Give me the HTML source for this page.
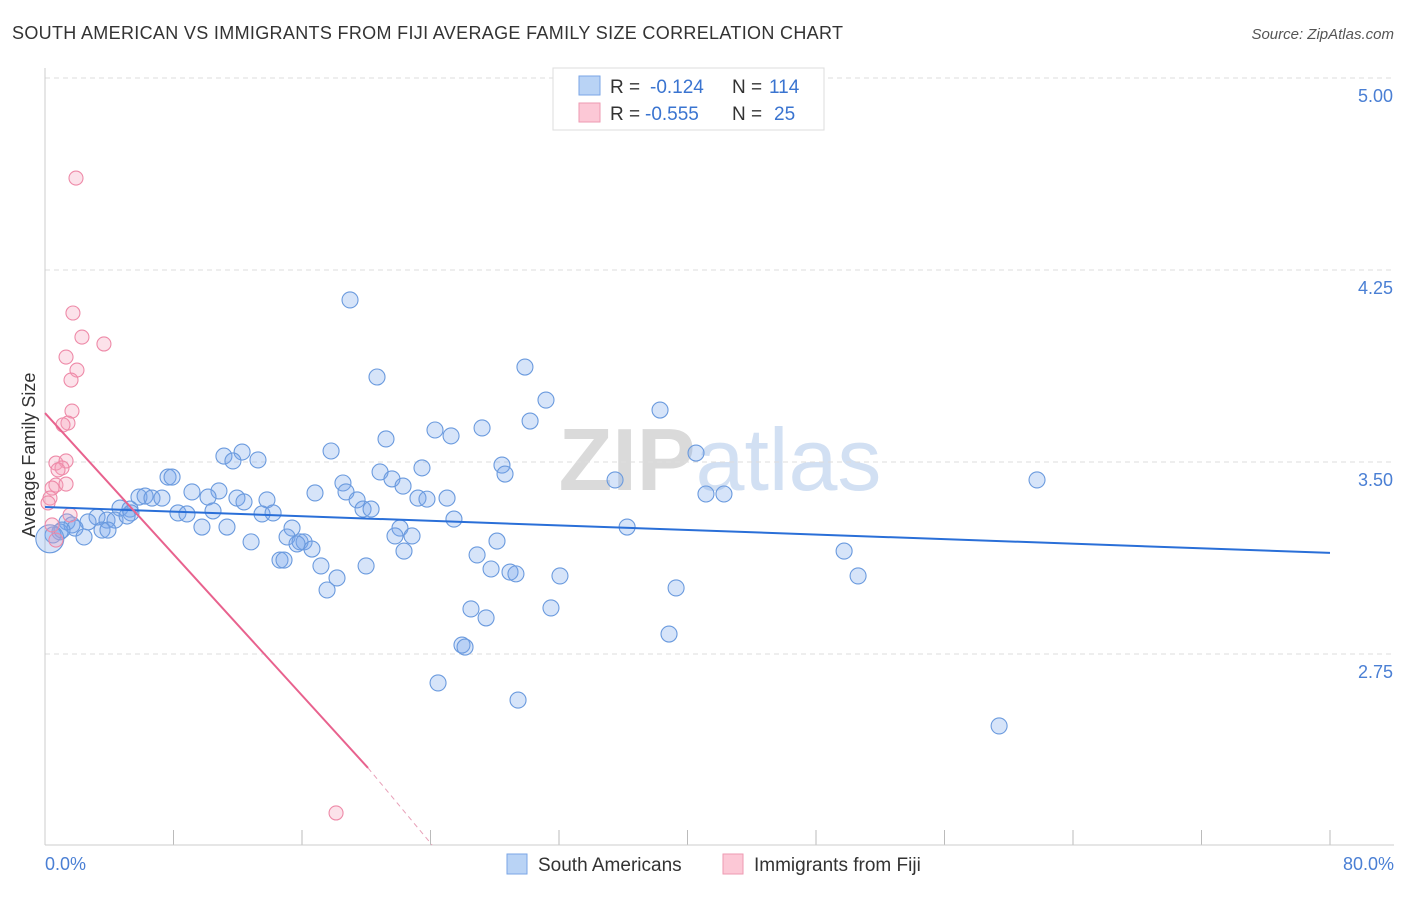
<!DOCTYPE html>
<html><head><meta charset="utf-8"><style>
body{margin:0;background:#fff;font-family:"Liberation Sans",sans-serif;}
svg text{font-family:"Liberation Sans",sans-serif;}
</style></head><body>
<svg id="chart" width="1406" height="892">
<text x="12" y="39" font-size="18" fill="#333" textLength="831">SOUTH AMERICAN VS IMMIGRANTS FROM FIJI AVERAGE FAMILY SIZE CORRELATION CHART</text>
<text x="1394" y="39" font-size="15" fill="#555" font-style="italic" text-anchor="end">Source: ZipAtlas.com</text>
<text x="720" y="490" font-size="88" fill="#dcdcdc" text-anchor="middle" font-family="Liberation Serif"><tspan font-weight="bold" fill="#dadada">ZIP</tspan><tspan fill="#d2e0f3" font-family="Liberation Sans">atlas</tspan></text>
<g id="grid"></g>
<line x1="45" y1="68" x2="45" y2="845" stroke="#ccc"/>
<line x1="45" y1="845" x2="1394" y2="845" stroke="#ccc"/>
<text x="35" y="455" font-size="18" fill="#333" text-anchor="middle" transform="rotate(-90 35 455)">Average Family Size</text>
<text x="45" y="870" font-size="18" fill="#4a7fd4">0.0%</text>
<text x="1394" y="870" font-size="18" fill="#4a7fd4" text-anchor="end">80.0%</text>
<g id="marks"></g>
<g>
<rect x="553" y="68" width="271" height="62" fill="#fff" stroke="#ddd"/>
<rect x="579" y="76" width="21" height="19" fill="#b9d3f5" stroke="#7aa6e6"/>
<rect x="579" y="103" width="21" height="19" fill="#fcc8d6" stroke="#ee9ab2"/>
<text x="610" y="93" font-size="19" fill="#333">R =</text><text x="650" y="93" font-size="19" fill="#3a74d0">-0.124</text>
<text x="732" y="93" font-size="19" fill="#333">N =</text><text x="769" y="93" font-size="19" fill="#3a74d0">114</text>
<text x="610" y="120" font-size="19" fill="#333">R =</text><text x="645" y="120" font-size="19" fill="#3a74d0">-0.555</text>
<text x="732" y="120" font-size="19" fill="#333">N =</text><text x="774" y="120" font-size="19" fill="#3a74d0">25</text>
</g>
<g>
<rect x="507" y="854" width="20" height="20" fill="#b9d3f5" stroke="#7aa6e6"/>
<text x="538" y="871" font-size="19" fill="#333">South Americans</text>
<rect x="723" y="854" width="20" height="20" fill="#fcc8d6" stroke="#ee9ab2"/>
<text x="754" y="871" font-size="19" fill="#333">Immigrants from Fiji</text>
</g>
</svg>
<script>
const yTicks=[5.00,4.25,3.50,2.75];
const xTickVals=[0,8,16,24,32,40,48,56,64,72,80];
const blueX=[18.99,20.67,29.88,31.19,38.29,30.20,24.28,25.28,27.21,21.23,17.81,12.27,11.14,11.70,13.26,40.53,7.66,7.91,20.86,23.47,28.45,28.64,35.49,61.76,18.55,21.60,22.29,16.81,18.74,9.15,10.83,5.85,6.23,6.66,7.28,10.15,11.95,12.39,13.82,19.43,23.22,23.78,25.03,41.15,42.27,4.67,5.29,5.35,8.28,8.84,10.46,13.51,14.20,19.80,20.30,25.46,3.24,3.86,4.36,5.11,2.68,1.37,1.68,1.87,9.77,11.33,15.38,22.10,36.24,3.55,3.92,0.93,0.50,2.43,21.79,22.85,15.07,15.88,16.13,16.62,15.69,12.83,28.14,22.35,26.90,49.75,14.63,14.88,17.18,19.99,27.77,28.95,29.32,32.06,50.62,18.18,17.56,39.29,26.52,31.50,27.46,38.85,25.96,26.15,24.47,29.45,59.40,1.06,0.3];
const blueY=[4.133,3.832,3.871,3.742,3.703,3.660,3.625,3.602,3.633,3.590,3.543,3.539,3.523,3.504,3.508,3.535,3.441,3.441,3.461,3.477,3.488,3.453,3.430,3.430,3.418,3.434,3.406,3.379,3.383,3.383,3.387,3.363,3.367,3.359,3.359,3.363,3.359,3.344,3.352,3.352,3.359,3.355,3.359,3.375,3.375,3.320,3.316,3.301,3.301,3.297,3.309,3.297,3.301,3.316,3.316,3.277,3.285,3.273,3.273,3.289,3.266,3.266,3.254,3.242,3.246,3.246,3.242,3.242,3.246,3.234,3.234,3.227,3.215,3.207,3.211,3.211,3.207,3.188,3.188,3.160,3.180,3.188,3.191,3.152,3.137,3.152,3.117,3.117,3.094,3.094,3.082,3.070,3.063,3.055,3.055,3.047,3.000,3.008,2.926,2.930,2.891,2.828,2.785,2.777,2.637,2.570,2.469,3.234,3.2];
const pinkX=[1.93,1.74,2.30,3.67,1.31,1.99,1.62,1.68,1.43,1.12,0.68,1.31,1.06,0.81,0.68,1.31,0.44,0.31,0.19,1.56,0.44,0.68,18.12];
const pinkY=[4.609,4.082,3.988,3.961,3.910,3.859,3.820,3.699,3.652,3.645,3.496,3.504,3.477,3.469,3.410,3.414,3.398,3.359,3.340,3.293,3.254,3.195,2.129];
const blueTrend=[3.324,3.145];
const pinkTrend=[3.691,2.305,20.11,2.004,24.1];
const xs=v=>45+v*(1285/80);
const ys=v=>462-(v-3.5)*256;
const NS="http://www.w3.org/2000/svg";
const grid=document.getElementById('grid'),marks=document.getElementById('marks');
function mk(tag,attrs,parent){const e=document.createElementNS(NS,tag);for(const k in attrs)e.setAttribute(k,attrs[k]);parent.appendChild(e);return e;}
yTicks.forEach(t=>{
 const l=mk('line',{x1:45,x2:1394,y1:ys(t),y2:ys(t),stroke:'#ddd','stroke-dasharray':'5,4'},grid);
 
 
 const tx=mk('text',{x:1393,y:ys(t)+24,'font-size':18,fill:'#4a7fd4','text-anchor':'end'},grid);
 tx.textContent=t.toFixed(2);
 
 
});
xTickVals.forEach(t=>{
 const l=mk('line',{x1:xs(t),x2:xs(t),y1:830,y2:845,stroke:'#bbb'},grid);
 
 
});
blueX.forEach((x,i)=>{
 const c=mk('circle',{cx:xs(x),cy:ys(blueY[i]),r:i===blueX.length-1?14:8,fill:'rgba(120,165,235,0.3)',stroke:'#6a9ade','stroke-width':1.1},marks);
 
 
});
pinkX.forEach((x,i)=>{
 const c=mk('circle',{cx:xs(x),cy:ys(pinkY[i]),r:7,fill:'rgba(245,160,185,0.3)',stroke:'#ee8aa8','stroke-width':1.1},marks);
 
 
});
const bt=mk('line',{x1:xs(0),y1:ys(blueTrend[0]),x2:xs(80),y2:ys(blueTrend[1]),stroke:'#2a6fd8','stroke-width':2},marks);


const pt=mk('line',{x1:xs(0),y1:ys(pinkTrend[0]),x2:xs(pinkTrend[2]),y2:ys(pinkTrend[1]),stroke:'#e8628e','stroke-width':2},marks);


const pd=mk('line',{x1:xs(pinkTrend[2]),y1:ys(pinkTrend[1]),x2:xs(pinkTrend[4]),y2:ys(pinkTrend[3]),stroke:'#e8a0b8','stroke-width':1,'stroke-dasharray':'5,4'},marks);


</script>
</body></html>
